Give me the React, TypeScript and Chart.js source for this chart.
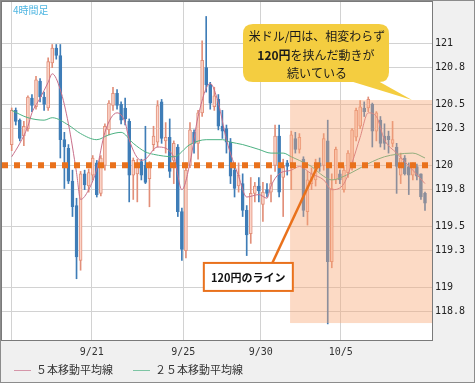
import React, { useEffect, useRef } from 'react';
import { Chart, registerables } from 'chart.js';

Chart.register(...registerables);

// 4-hour candles (USD/JPY), one entry per candle
const opens: number[] = [
  120.17, 120.45, 120.37, 120.24, 120.30, 120.55, 120.48, 120.69, 120.56, 120.47,
  120.84, 120.96, 120.90, 120.21, 120.14, 119.87, 119.67, 119.22, 119.93, 119.83,
  119.92, 120.02, 119.77, 120.00, 120.29, 120.49, 120.59, 120.50, 120.47, 120.36,
  119.92, 119.93, 120.03, 120.00, 119.89, 120.17, 120.19, 120.52, 120.20, 120.23,
  120.04, 120.15, 119.62, 119.30, 120.00, 120.27, 120.18, 120.43, 120.80, 120.66,
  120.48, 120.54, 120.32, 120.30, 120.19, 119.96, 119.83, 119.85, 119.63, 119.44,
  119.77, 119.83, 119.68, 119.80, 119.78, 120.00, 120.24, 119.90, 120.02, 120.02,
  120.22, 120.13, 120.05, 119.62, 119.85, 119.88, 120.02, 120.00, 120.20, 119.21,
  119.88, 119.93, 119.80, 119.94, 120.00, 120.23, 120.32, 120.47, 120.47, 120.50,
  120.28, 120.37, 120.24, 120.24, 120.18, 120.15, 119.92, 120.06, 119.99, 119.92,
  119.99, 119.93, 119.77,
];
const highs: number[] = [
  120.47, 120.47, 120.38, 120.36, 120.57, 120.58, 120.73, 120.71, 120.60, 120.88,
  120.99, 120.99, 120.99, 120.27, 120.17, 119.96, 119.73, 119.95, 119.96, 119.97,
  120.08, 120.04, 120.08, 120.34, 120.53, 120.64, 120.62, 120.52, 120.55, 120.38,
  120.06, 120.05, 120.05, 120.32, 120.03, 120.32, 120.53, 120.54, 120.35, 120.38,
  120.20, 120.17, 119.65, 120.02, 120.35, 120.29, 120.45, 121.02, 121.22, 120.68,
  120.64, 120.58, 120.45, 120.33, 120.22, 120.00, 120.02, 119.93, 119.67, 119.90,
  119.86, 119.90, 119.86, 119.85, 119.92, 120.33, 120.33, 120.05, 120.04, 120.28,
  120.27, 120.26, 120.07, 119.95, 119.98, 120.05, 120.06, 120.26, 120.37, 119.93,
  120.15, 119.96, 119.99, 120.12, 120.30, 120.47, 120.53, 120.52, 120.56, 120.51,
  120.44, 120.40, 120.34, 120.28, 120.36, 120.18, 120.10, 120.08, 120.02, 120.02,
  120.01, 119.93, 119.78,
];
const lows: number[] = [
  120.12, 120.33, 120.20, 120.16, 120.28, 120.44, 120.46, 120.52, 120.45, 120.45,
  120.80, 120.87, 120.06, 119.81, 119.85, 119.58, 119.07, 119.14, 119.80, 119.78,
  119.88, 119.74, 119.75, 119.96, 120.25, 120.45, 120.46, 120.34, 120.33, 119.70,
  119.72, 119.70, 119.88, 119.85, 119.66, 120.12, 120.15, 120.18, 120.10, 119.90,
  119.85, 119.58, 119.22, 119.24, 119.98, 120.10, 120.05, 120.40, 120.60, 120.46,
  120.45, 120.29, 120.22, 120.10, 119.85, 119.74, 119.78, 119.58, 119.26, 119.36,
  119.70, 119.70, 119.54, 119.74, 119.70, 119.95, 119.74, 119.58, 119.92, 119.80,
  120.10, 120.10, 119.58, 119.51, 119.80, 119.83, 119.95, 119.96, 118.70, 119.16,
  119.85, 119.85, 119.78, 119.90, 119.96, 120.20, 120.30, 120.40, 120.44, 120.15,
  120.20, 120.15, 120.13, 120.10, 120.15, 119.77, 119.85, 119.92, 119.76, 119.88,
  119.88, 119.72, 119.63,
];
const closes: number[] = [
  120.45, 120.36, 120.22, 120.32, 120.56, 120.49, 120.70, 120.56, 120.50, 120.85,
  120.96, 120.90, 120.21, 120.15, 119.87, 119.66, 119.25, 119.93, 119.84, 119.94,
  120.06, 119.76, 120.06, 120.32, 120.51, 120.59, 120.49, 120.37, 120.38, 119.92,
  120.04, 120.02, 119.92, 119.86, 120.02, 120.24, 120.49, 120.22, 120.23, 119.95,
  120.18, 119.62, 119.31, 119.96, 120.29, 120.18, 120.43, 120.86, 120.66, 120.51,
  120.57, 120.32, 120.28, 120.19, 119.91, 119.81, 119.92, 119.63, 119.43, 119.77,
  119.83, 119.79, 119.78, 119.77, 119.85, 120.24, 119.78, 120.00, 119.99, 120.25,
  120.13, 120.23, 119.63, 119.88, 119.93, 120.02, 119.99, 120.22, 119.21, 119.81,
  120.13, 119.88, 119.96, 120.10, 120.29, 120.45, 120.48, 120.44, 120.54, 120.28,
  120.43, 120.18, 120.18, 120.21, 120.21, 119.99, 120.06, 119.93, 119.92, 119.99,
  119.91, 119.74, 119.69,
];

// moving averages: [candle index, value]
const ma5Points: [number, number][] = [
  [0, 120.07], [2, 120.18], [4, 120.32], [5, 120.43], [7, 120.55], [9, 120.68], [10, 120.75],
  [12, 120.62], [14, 120.34], [16, 119.94], [17, 119.72], [19, 119.8], [21, 119.97], [23, 120.27],
  [26, 120.43], [28, 120.35], [29, 120.21], [32, 120.04], [33, 120.05], [36, 120.15], [40, 120.07],
  [42, 119.8], [44, 120.02], [46, 120.4], [49, 120.67], [51, 120.51], [53, 120.21], [56, 119.91],
  [58, 119.74], [61, 119.76], [63, 119.73], [64, 119.83], [66, 119.93], [69, 119.96], [71, 119.99],
  [74, 119.93], [77, 119.88], [79, 119.8], [82, 119.85], [84, 120.02], [86, 120.23], [88, 120.43],
  [90, 120.4], [92, 120.21], [95, 120.1], [99, 119.96], [102, 119.85],
];
const ma25Points: [number, number][] = [
  [0, 120.45], [4, 120.39], [8, 120.37], [10, 120.39], [14, 120.33], [17, 120.26], [21, 120.21],
  [24, 120.25], [27, 120.27], [30, 120.18], [33, 120.11], [35, 120.09], [40, 120.07], [44, 120.17],
  [48, 120.21], [52, 120.21], [54, 120.19], [57, 120.17], [61, 120.13], [64, 120.1], [67, 120.1],
  [69, 120.07], [71, 120.04], [74, 119.99], [77, 119.91], [79, 119.88], [82, 119.91], [85, 119.96],
  [89, 120.03], [92, 120.07], [95, 120.09], [99, 120.1], [102, 120.06],
];

const seriesLabels = ['５本移動平均線', '２５本移動平均線'];
const xTickPositions = [0, 19.75, 42.35, 61.45, 81.2];
const xTickLabels = ['', '9/21', '9/25', '9/30', '10/5'];
const yTickValues = [118.8, 119, 119.3, 119.5, 119.8, 120, 120.3, 120.5, 120.8, 121];

const levelLine = 120;
const zoneFromIndex = 68.7;
const zoneHigh = 120.535;
const zoneLow = 118.707;
const timeframeTag = '4時間足';
const calloutLine1 = '米ドル/円は、相変わらず';
const calloutLine2Bold = '120円';
const calloutLine2 = 'を挟んだ動きが';
const calloutLine3 = '続いている';
const levelLabel = '120円のライン';

const UP_FILL = '#fbd5c9';
const UP_LINE = '#e28f79';
const DOWN = '#3f7db7';
const MA5_COLOR = '#c96f8a';
const MA25_COLOR = '#4cb283';
const ORANGE = '#e9711c';
const JP = '"Noto Sans CJK JP", "Noto Sans", sans-serif';
const MONO = '"DejaVu Sans Mono", monospace';

const overlayPlugin = {
  id: 'overlay',
  beforeDraw(chart: any) {
    const { ctx, chartArea: a, width, height } = chart;
    ctx.save();
    ctx.fillStyle = '#f0f0f0';
    ctx.fillRect(0, 0, width, height);
    ctx.fillStyle = '#ffffff';
    ctx.fillRect(a.left, a.top, a.right - a.left, a.bottom - a.top);
    ctx.restore();
  },
  afterDatasetsDraw(chart: any) {
    const { ctx, chartArea: a, scales } = chart;
    const px = (v: number) => scales.x.getPixelForValue(v);
    const py = (v: number) => scales.y.getPixelForValue(v);
    ctx.save();
    ctx.beginPath();
    ctx.rect(a.left, a.top, a.right - a.left, a.bottom - a.top);
    ctx.clip();

    // shaded zone
    const zx = px(zoneFromIndex);
    const zt = py(zoneHigh);
    const zb = py(zoneLow);
    ctx.fillStyle = 'rgba(248,166,116,0.42)';
    ctx.fillRect(zx, zt, a.right - zx, zb - zt);

    // 120 level dotted line
    ctx.strokeStyle = ORANGE;
    ctx.lineWidth = 6;
    ctx.setLineDash([6, 6]);
    ctx.beginPath();
    ctx.moveTo(a.left, py(levelLine));
    ctx.lineTo(a.right, py(levelLine));
    ctx.stroke();
    ctx.setLineDash([]);

    // label box + connector
    const bx = px(58.4);
    const by = py(119.085);
    const bw = 89;
    const bh = 28;
    ctx.strokeStyle = ORANGE;
    ctx.lineWidth = 2.5;
    ctx.beginPath();
    ctx.moveTo(bx + 24, by - bh / 2);
    ctx.lineTo(px(75.6), py(levelLine));
    ctx.stroke();
    ctx.fillStyle = '#ffffff';
    ctx.fillRect(bx - bw / 2, by - bh / 2, bw, bh);
    ctx.lineWidth = 2;
    ctx.strokeRect(bx - bw / 2, by - bh / 2, bw, bh);
    ctx.fillStyle = '#111';
    ctx.font = `bold 11px ${JP}`;
    ctx.textAlign = 'center';
    ctx.textBaseline = 'middle';
    ctx.fillText(levelLabel, bx, by + 0.5);

    // callout
    const cx = px(75.1);
    const cy = py(120.92);
    const cw = 146;
    const ch = 58;
    const r = 10;
    const l = cx - cw / 2;
    const t = cy - ch / 2;
    ctx.fillStyle = '#f4cd40';
    ctx.beginPath();
    ctx.moveTo(l + r, t);
    ctx.lineTo(l + cw - r, t);
    ctx.quadraticCurveTo(l + cw, t, l + cw, t + r);
    ctx.lineTo(l + cw, t + ch - r);
    ctx.quadraticCurveTo(l + cw, t + ch, l + cw - r, t + ch);
    ctx.lineTo(l + r, t + ch);
    ctx.quadraticCurveTo(l, t + ch, l, t + ch - r);
    ctx.lineTo(l, t + r);
    ctx.quadraticCurveTo(l, t, l + r, t);
    ctx.closePath();
    ctx.fill();
    ctx.beginPath();
    ctx.moveTo(cx + 34, t + ch - 1);
    ctx.lineTo(px(98.8), py(zoneHigh));
    ctx.lineTo(cx + 62, t + ch - 1);
    ctx.closePath();
    ctx.fill();

    ctx.fillStyle = '#1a1a1a';
    ctx.textAlign = 'center';
    ctx.font = `12px ${JP}`;
    ctx.fillText(calloutLine1, cx + 1, cy - 17);
    ctx.font = `bold 12px ${JP}`;
    const w1 = ctx.measureText(calloutLine2Bold).width;
    ctx.font = `12px ${JP}`;
    const w2 = ctx.measureText(calloutLine2).width;
    const sx = cx - (w1 + w2) / 2;
    ctx.textAlign = 'left';
    ctx.font = `bold 12px ${JP}`;
    ctx.fillText(calloutLine2Bold, sx, cy + 2);
    ctx.font = `12px ${JP}`;
    ctx.fillText(calloutLine2, sx + w1, cy + 2);
    ctx.textAlign = 'center';
    ctx.fillText(calloutLine3, cx + 1, cy + 20);

    // timeframe tag
    ctx.textAlign = 'left';
    ctx.fillStyle = '#4fb6e2';
    ctx.font = `10px ${JP}`;
    ctx.fillText(timeframeTag, a.left + 11, a.top + 8);
    ctx.restore();
  },
  afterDraw(chart: any) {
    const { ctx, chartArea: a, width, height } = chart;
    ctx.save();
    ctx.strokeStyle = '#8c8c8c';
    ctx.lineWidth = 1;
    ctx.strokeRect(0.5, 0.5, width - 1, height - 1);
    ctx.strokeStyle = '#7a7a7a';
    ctx.strokeRect(a.left - 0.5, a.top - 0.5, a.right - a.left + 1, a.bottom - a.top + 1);

    // legend
    const ly = 370;
    const items = [
      { x: 14, color: MA5_COLOR, text: seriesLabels[0] },
      { x: 133, color: MA25_COLOR, text: seriesLabels[1] },
    ];
    ctx.font = `11px ${JP}`;
    ctx.textBaseline = 'middle';
    ctx.textAlign = 'left';
    items.forEach((it) => {
      ctx.strokeStyle = it.color;
      ctx.globalAlpha = 0.7;
      ctx.lineWidth = 1;
      ctx.beginPath();
      ctx.moveTo(it.x, ly + 0.5);
      ctx.lineTo(it.x + 17, ly + 0.5);
      ctx.stroke();
      ctx.globalAlpha = 1;
      ctx.fillStyle = '#333';
      ctx.fillText(it.text, it.x + 22, ly);
    });
    ctx.restore();
  },
};

const isUp = (i: number) => closes[i] >= opens[i];

export default function App() {
  const ref = useRef<HTMLCanvasElement | null>(null);

  useEffect(() => {
    document.body.style.margin = '0';
    const canvas = ref.current;
    if (!canvas) return;

    const wickData = lows.map((lo, i) => ({ x: i, y: [lo, highs[i]] }));
    const bodyData = opens.map((o, i) => ({ x: i, y: [o, closes[i]] }));

    const chart = new Chart(canvas, {
      type: 'bar',
      data: {
        datasets: [
          {
            type: 'line',
            label: seriesLabels[0],
            data: ma5Points.map(([x, y]) => ({ x, y })),
            borderColor: MA5_COLOR,
            borderWidth: 1,
            pointRadius: 0,
            cubicInterpolationMode: 'monotone',
            order: 0,
          } as any,
          {
            type: 'line',
            label: seriesLabels[1],
            data: ma25Points.map(([x, y]) => ({ x, y })),
            borderColor: MA25_COLOR,
            borderWidth: 1,
            pointRadius: 0,
            cubicInterpolationMode: 'monotone',
            order: 0,
          } as any,
          {
            type: 'bar',
            label: 'body',
            data: bodyData,
            barThickness: 3,
            grouped: false,
            borderWidth: 1,
            borderSkipped: false,
            backgroundColor: (c: any) => (isUp(c.dataIndex) ? UP_FILL : DOWN),
            borderColor: (c: any) => (isUp(c.dataIndex) ? UP_LINE : DOWN),
            order: 1,
          } as any,
          {
            type: 'bar',
            label: 'wick',
            data: wickData,
            barThickness: 1,
            grouped: false,
            borderWidth: 0,
            backgroundColor: (c: any) => (isUp(c.dataIndex) ? UP_LINE : DOWN),
            order: 2,
          } as any,
        ],
      },
      options: {
        responsive: false,
        animation: false,
        devicePixelRatio: 1,
        events: [],
        layout: { padding: { left: 2, top: 2, right: 0, bottom: 0 } },
        plugins: { legend: { display: false }, tooltip: { enabled: false } },
        scales: {
          x: {
            type: 'linear',
            min: -2.394,
            max: 103.73,
            offset: false,
            grid: { offset: false, color: '#d2d2d2', drawTicks: false, lineWidth: 1 },
            border: { display: false },
            afterBuildTicks: (scale: any) => {
              scale.ticks = xTickPositions.map((v) => ({ value: v }));
            },
            afterFit: (scale: any) => {
              scale.height = 43;
              scale.paddingLeft = 0;
              scale.paddingRight = 0;
            },
            ticks: {
              autoSkip: false,
              maxRotation: 0,
              padding: 6,
              color: '#333',
              font: { family: MONO, size: 10 },
              callback: (_v: any, i: number) => xTickLabels[i],
            },
          },
          y: {
            type: 'linear',
            position: 'right',
            min: 118.568,
            max: 121.3385,
            grid: { color: '#d2d2d2', drawTicks: false, lineWidth: 1 },
            border: { display: false },
            afterBuildTicks: (scale: any) => {
              scale.ticks = yTickValues.map((v) => ({ value: v }));
            },
            afterFit: (scale: any) => {
              scale.width = 43;
              scale.paddingTop = 0;
              scale.paddingBottom = 0;
            },
            ticks: {
              padding: 3,
              color: '#222',
              font: { family: MONO, size: 10 },
              callback: (v: any) => String(Number(Number(v).toFixed(1))),
            },
          },
        },
      } as any,
      plugins: [overlayPlugin],
    });

    return () => chart.destroy();
  }, []);

  return (
    <div style={{ width: 475, height: 383 }}>
      <canvas ref={ref} width={475} height={383} />
    </div>
  );
}
